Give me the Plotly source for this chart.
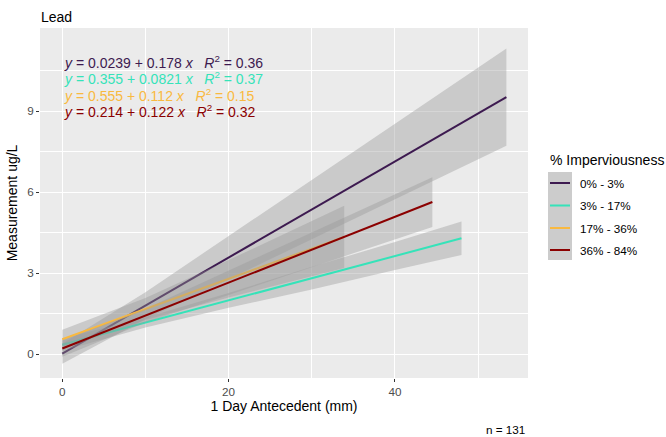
import plotly.graph_objects as go

# Imperviousness classes and their fitted regressions (Lead vs 1-day antecedent rain)
groups = ["0% - 3%", "3% - 17%", "17% - 36%", "36% - 84%"]
colors = ["#3D1A50", "#35E3B9", "#F9B940", "#8B0000"]
intercept_labels = ["0.0239", "0.355", "0.555", "0.214"]
slope_labels = ["0.178", "0.0821", "0.112", "0.122"]
r2_labels = ["0.36", "0.37", "0.15", "0.32"]
x_max = [53.4, 48.0, 33.9, 44.5]

# Confidence bands of each fit (x positions, lower and upper bounds)
band_x = [
    [0, 10, 20, 30, 40, 53.4],
    [0, 10, 20, 30, 40, 48.0],
    [0, 10, 20, 33.9],
    [0, 10, 20, 30, 44.5],
]
band_lower = [
    [-0.35, 1.30, 2.78, 4.26, 5.74, 7.73],
    [0.13, 0.99, 1.72, 2.40, 3.12, 3.68],
    [0.20, 1.27, 2.10, 3.20],
    [-0.09, 1.18, 2.20, 3.22, 4.72],
]
band_upper = [
    [0.39, 2.30, 4.38, 6.46, 8.54, 11.33],
    [0.58, 1.36, 2.27, 3.24, 4.16, 4.92],
    [0.91, 2.08, 3.49, 5.50],
    [0.51, 1.69, 3.10, 4.52, 6.56],
]
n_obs = 131

FONT = "Liberation Sans, Arial, sans-serif"
W, H = 666, 437
L, R, T, B = 40, 138, 28, 59
PW, PH = W - L - R, H - T - B


def px(x):
    return (x - L) / PW


def py(y):
    return (H - B - y) / PH


fig = go.Figure()

for i, g in enumerate(groups):
    a = float(intercept_labels[i])
    b = float(slope_labels[i])
    bx = band_x[i]
    fig.add_trace(go.Scatter(
        x=bx + bx[::-1],
        y=band_lower[i] + band_upper[i][::-1],
        fill="toself", fillcolor="rgba(153,153,153,0.4)",
        line=dict(width=0), mode="lines", hoverinfo="skip", showlegend=False,
    ))
    xs = [0, x_max[i]]
    fig.add_trace(go.Scatter(
        x=xs, y=[a + b * x for x in xs], mode="lines", name=g,
        line=dict(color=colors[i], width=2), showlegend=False,
    ))

annotations = []
# Regression equations
eq_rows = [61.5, 78.0, 95.0, 111.5]
for i in range(len(groups)):
    txt = (f"<i>y</i> = {intercept_labels[i]} + {slope_labels[i]} <i>x</i>"
           f"   <i>R</i><sup>2</sup> = {r2_labels[i]}")
    annotations.append(dict(
        x=px(62), y=py(eq_rows[i]), xref="paper", yref="paper", text=txt,
        showarrow=False, xanchor="left", yanchor="middle",
        font=dict(family=FONT, size=14, color=colors[i]),
    ))

# Title and sample-size caption
annotations.append(dict(x=px(39), y=py(17), xref="paper", yref="paper", text="Lead",
                        showarrow=False, xanchor="left", yanchor="middle",
                        font=dict(family=FONT, size=14, color="black")))
annotations.append(dict(x=px(527), y=py(429), xref="paper", yref="paper",
                        text=f"n = {n_obs}", showarrow=False, xanchor="right",
                        yanchor="middle", font=dict(family=FONT, size=11.7, color="black")))

# Legend
annotations.append(dict(x=px(548), y=py(160), xref="paper", yref="paper",
                        text="% Imperviousness", showarrow=False, xanchor="left",
                        yanchor="middle", font=dict(family=FONT, size=14, color="black")))
shapes = [dict(type="rect", xref="paper", yref="paper",
               x0=px(548), x1=px(572), y0=py(172), y1=py(260),
               fillcolor="#CCCCCC", line=dict(width=0), layer="above")]
row_y = [183, 205.5, 228, 250]
for i, g in enumerate(groups):
    shapes.append(dict(type="line", xref="paper", yref="paper",
                       x0=px(550), x1=px(570), y0=py(row_y[i]), y1=py(row_y[i]),
                       line=dict(color=colors[i], width=2), layer="above"))
    annotations.append(dict(x=px(578), y=py(row_y[i]), xref="paper", yref="paper",
                            text=g, showarrow=False, xanchor="left", yanchor="middle",
                            font=dict(family=FONT, size=11.7, color="black")))

fig.update_layout(
    width=W, height=H,
    margin=dict(l=L, r=R, t=T, b=B, pad=0),
    paper_bgcolor="white", plot_bgcolor="#EBEBEB",
    font=dict(family=FONT, color="black"),
    showlegend=False,
    annotations=annotations, shapes=shapes,
)
fig.update_xaxes(
    range=[-2.68, 56.0], tickvals=[0, 20, 40], ticktext=["0", "20", "40"],
    showgrid=True, gridcolor="white", gridwidth=1.1, zeroline=False,
    minor=dict(tickvals=[10, 30, 50], showgrid=True, gridcolor="white", gridwidth=0.5, ticks=""),
    ticks="outside", ticklen=3, tickcolor="#333333", tickwidth=1,
    tickfont=dict(family=FONT, size=11.7, color="#4D4D4D"),
    title=dict(text="1 Day Antecedent (mm)", font=dict(family=FONT, size=14, color="black"), standoff=4),
    showline=False,
)
fig.update_yaxes(
    range=[-0.88, 12.09], tickvals=[0, 3, 6, 9], ticktext=["0", "3", "6", "9"],
    showgrid=True, gridcolor="white", gridwidth=1.1, zeroline=False,
    minor=dict(tickvals=[1.5, 4.5, 7.5, 10.5], showgrid=True, gridcolor="white", gridwidth=0.5, ticks=""),
    ticks="outside", ticklen=3, tickcolor="#333333", tickwidth=1,
    tickfont=dict(family=FONT, size=11.7, color="#4D4D4D"),
    title=dict(text="Measurement ug/L", font=dict(family=FONT, size=14, color="black"), standoff=6),
    showline=False,
)

fig.write_html("out.html")
